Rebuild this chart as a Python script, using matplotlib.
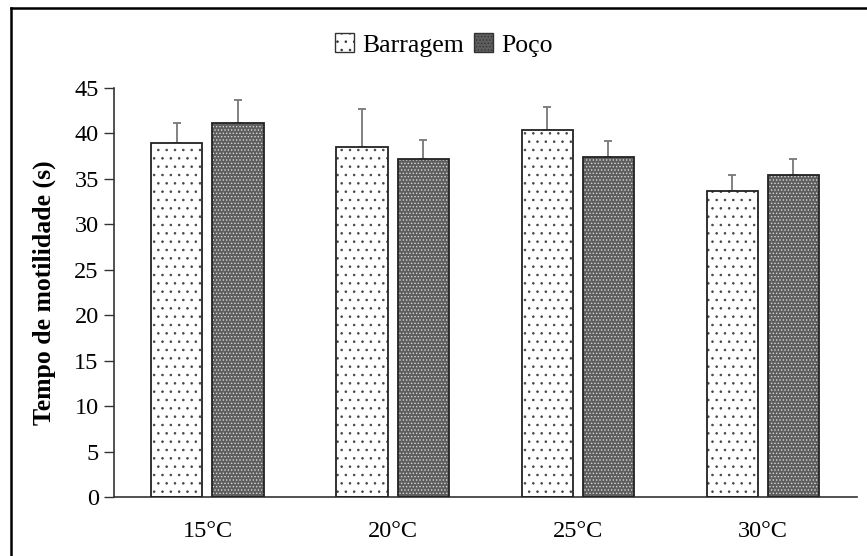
import numpy as np
import matplotlib
matplotlib.use("Agg")
import matplotlib.pyplot as plt
from matplotlib.lines import Line2D
from matplotlib.patches import Patch

plt.rcParams['font.family'] = ['Liberation Serif', 'DejaVu Serif']
plt.rcParams['hatch.linewidth'] = 0.6

# data
categories = ['15°C', '20°C', '25°C', '30°C']
barragem = [38.9, 38.55, 40.4, 33.7]
barragem_err = [2.2, 4.15, 2.5, 1.7]
poco = [41.2, 37.2, 37.4, 35.4]
poco_err = [2.5, 2.1, 1.8, 1.8]
yticks = [0, 5, 10, 15, 20, 25, 30, 35, 40, 45]

fig = plt.figure(figsize=(8.67, 5.56), dpi=100)
ax = fig.add_axes([0.1315, 0.1061, 0.857, 0.7356])

x = np.arange(len(categories))
w = 0.276
off = 0.165

# Barragem: white with sparse dots
ax.bar(x - off, barragem, w, facecolor='white', edgecolor='#444444',
       hatch='..', linewidth=0, zorder=2)
ax.bar(x - off, barragem, w, facecolor='none', edgecolor='#222222',
       linewidth=1.3, zorder=3)
# Poco: dense dark grey
ax.bar(x + off, poco, w, facecolor='#5e5e5e', edgecolor='#d8d8d8',
       hatch='.....', linewidth=0, zorder=2)
ax.bar(x + off, poco, w, facecolor='none', edgecolor='#222222',
       linewidth=1.3, zorder=3)

# upper error bars only
ax.errorbar(x - off, barragem, yerr=[np.zeros(len(barragem)), barragem_err],
            fmt='none', ecolor='#777777', elinewidth=1.3, capsize=2.7, capthick=1.3, zorder=1)
ax.errorbar(x + off, poco, yerr=[np.zeros(len(poco)), poco_err],
            fmt='none', ecolor='#777777', elinewidth=1.3, capsize=2.7, capthick=1.3, zorder=1)

ax.set_xlim(-0.505, 3.51)
ax.set_ylim(0, 45)
ax.set_yticks(yticks)
ax.set_xticks(x)
ax.set_xticklabels(categories, fontsize=17.5)
ax.tick_params(axis='x', length=0, pad=17)
ax.tick_params(axis='y', length=7, width=1, color='#333333', labelsize=17.5, pad=4)
ax.spines['top'].set_visible(False)
ax.spines['right'].set_visible(False)
for s in ('left', 'bottom'):
    ax.spines[s].set_color('#333333')
    ax.spines[s].set_linewidth(1.2)
ax.set_ylabel('Tempo de motilidade (s)', fontsize=18.5, fontweight='bold', labelpad=13)

handles = [Patch(facecolor='white', edgecolor='#333333', hatch='..', label='Barragem'),
           Patch(facecolor='#5e5e5e', edgecolor='#333333', hatch='.....', label='Poço')]
fig.legend(handles=handles, loc='center', bbox_to_anchor=(0.512, 0.919), ncol=2,
           frameon=False, fontsize=18.5, handlelength=0.75, handleheight=0.75,
           handletextpad=0.3, columnspacing=0.4, borderpad=0)

# outer frame (top and left edges visible)
fig.add_artist(Line2D([0.0127, 1.0], [0.985, 0.985], transform=fig.transFigure,
                      color='black', linewidth=1.8))
fig.add_artist(Line2D([0.0127, 0.0127], [0.0, 0.985], transform=fig.transFigure,
                      color='black', linewidth=1.8))

fig.savefig('out.png', dpi=100)
